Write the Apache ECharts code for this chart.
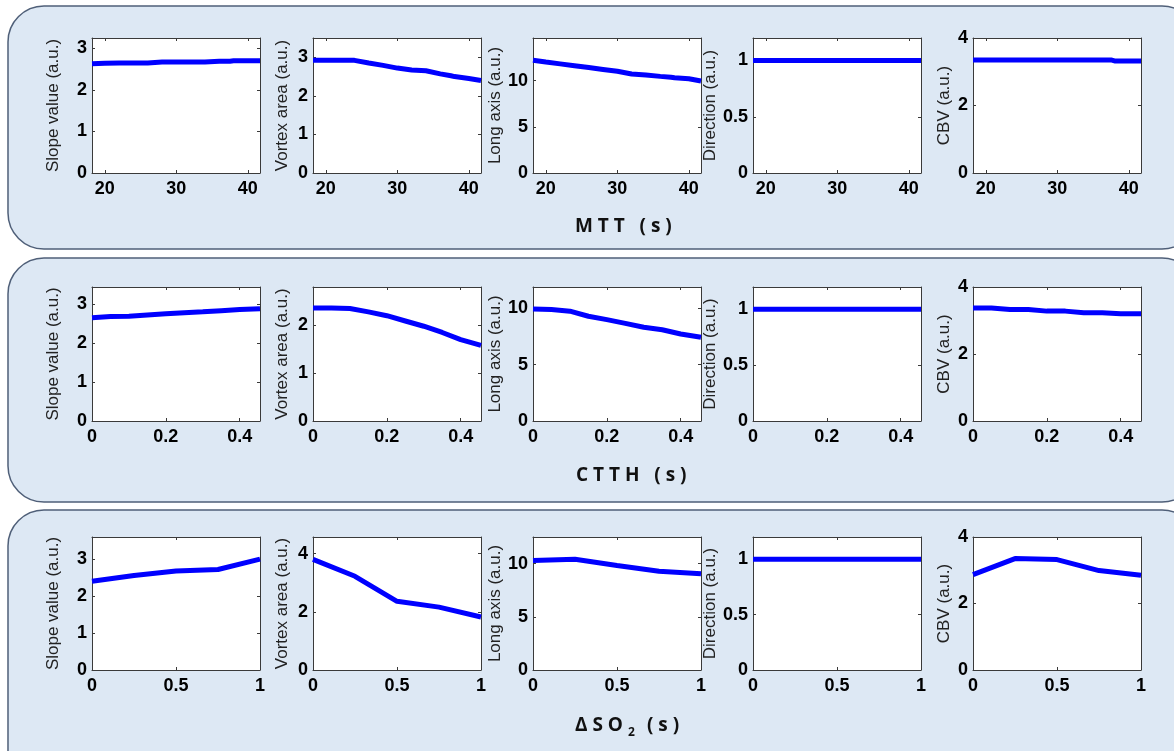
<!DOCTYPE html>
<html>
<head>
<meta charset="utf-8">
<script src="https://cdn.jsdelivr.net/npm/echarts@6/dist/echarts.min.js"></script>
<style>html,body{margin:0;padding:0;background:#fff;}#c{width:1174px;height:751px;}</style>
</head>
<body>
<div id="c"></div>
<script>
// ---------- data ----------
const yNames = ['Slope value (a.u.)', 'Vortex area (a.u.)', 'Long axis (a.u.)', 'Direction (a.u.)', 'CBV (a.u.)'];

// Row 1 : MTT (s)
const mttX = [18.2, 20, 22, 24, 26, 28, 30, 32, 34, 36, 37.5, 38, 40, 41.7];
const mttSlope = [2.63, 2.64, 2.65, 2.65, 2.65, 2.67, 2.67, 2.67, 2.67, 2.69, 2.69, 2.70, 2.70, 2.70];
const mttVortex = [2.92, 2.92, 2.92, 2.92, 2.85, 2.79, 2.72, 2.67, 2.65, 2.57, 2.52, 2.50, 2.45, 2.40];
const mttLong = [12.2, 12.0, 11.8, 11.6, 11.4, 11.2, 11.0, 10.7, 10.6, 10.45, 10.35, 10.3, 10.2, 9.95];
const mttDir = [1, 1, 1, 1, 1, 1, 1, 1, 1, 1, 1, 1, 1, 1];
const mttCBV = [3.35, 3.35, 3.35, 3.35, 3.35, 3.35, 3.35, 3.35, 3.35, 3.35, 3.35, 3.32, 3.32, 3.32];

// Row 2 : CTTH (s)
const ctthX = [0, 0.05, 0.1, 0.15, 0.2, 0.25, 0.3, 0.35, 0.4, 0.455];
const ctthSlope = [2.66, 2.69, 2.70, 2.73, 2.76, 2.79, 2.81, 2.84, 2.87, 2.89];
const ctthVortex = [2.36, 2.36, 2.35, 2.28, 2.20, 2.09, 1.98, 1.85, 1.70, 1.58];
const ctthLong = [9.95, 9.9, 9.75, 9.3, 9.0, 8.67, 8.32, 8.1, 7.73, 7.43];
const ctthDir = [1, 1, 1, 1, 1, 1, 1, 1, 1, 1];
const ctthCBV = [3.37, 3.37, 3.33, 3.33, 3.28, 3.28, 3.23, 3.23, 3.2, 3.2];

// Row 3 : ΔSO2 (s)
const dso2X = [0, 0.25, 0.5, 0.75, 1];
const dso2Slope = [2.4, 2.56, 2.68, 2.72, 3.0];
const dso2Vortex = [3.8, 3.22, 2.36, 2.16, 1.82];
const dso2Long = [10.3, 10.4, 9.82, 9.29, 9.05];
const dso2Dir = [1, 1, 1, 1, 1];
const dso2CBV = [2.87, 3.35, 3.32, 2.99, 2.85];

// axis ranges and tick labels
const xRanges = [[18.2, 41.7], [0, 0.455], [0, 1]];
const xTicks = [[20, 30, 40], [0, 0.2, 0.4], [0, 0.5, 1]];
const yMax = [
  [3.25, 3.5, 14.6, 1.2, 4],
  [3.45, 2.8, 11.9, 1.2, 4],
  [3.6, 4.57, 12.5, 1.2, 4]
];
const yTicks = [
  [[0, 1, 2, 3], [0, 1, 2, 3], [0, 5, 10], [0, 0.5, 1], [0, 2, 4]],
  [[0, 1, 2, 3], [0, 1, 2], [0, 5, 10], [0, 0.5, 1], [0, 2, 4]],
  [[0, 1, 2, 3], [0, 2, 4], [0, 5, 10], [0, 0.5, 1], [0, 2, 4]]
];

const rowsX = [mttX, ctthX, dso2X];
const rowsY = [
  [mttSlope, mttVortex, mttLong, mttDir, mttCBV],
  [ctthSlope, ctthVortex, ctthLong, ctthDir, ctthCBV],
  [dso2Slope, dso2Vortex, dso2Long, dso2Dir, dso2CBV]
];

// ---------- layout ----------
const lefts = [92, 313, 533, 753, 973];
const plotW = 168;
const tops = [38, 287, 537];
const plotH = [135, 134, 133];
const nameGaps = [30, 22, 24, 30, 20];

const grid = [], xAxis = [], yAxis = [], series = [];
const axisColor = '#3a3a3a';
const tickFont = {color: '#000', fontSize: 18, fontWeight: 'bold', fontFamily: 'Liberation Sans, Arial, sans-serif'};

for (let r = 0; r < 3; r++) {
  for (let c = 0; c < 5; c++) {
    const gi = grid.length;
    grid.push({left: lefts[c], top: tops[r], width: plotW, height: plotH[r], show: true, backgroundColor: '#fff', borderWidth: 0});
    const xBase = {
      type: 'value', gridIndex: gi, min: xRanges[r][0], max: xRanges[r][1],
      axisLine: {show: true, onZero: false, lineStyle: {color: axisColor, width: 1}},
      axisTick: {show: true, inside: true, length: 3, customValues: xTicks[r], lineStyle: {color: axisColor}},
      splitLine: {show: false}
    };
    xAxis.push(Object.assign({}, xBase, {
      position: 'bottom',
      axisLabel: Object.assign({show: true, margin: 7, customValues: xTicks[r], formatter: v => String(v)}, tickFont)
    }));
    xAxis.push(Object.assign({}, xBase, {position: 'top', axisLabel: {show: false}}));
    const yBase = {
      type: 'value', gridIndex: gi, min: 0, max: yMax[r][c],
      axisLine: {show: true, onZero: false, lineStyle: {color: axisColor, width: 1}},
      axisTick: {show: true, inside: true, length: 3, customValues: yTicks[r][c], lineStyle: {color: axisColor}},
      splitLine: {show: false}
    };
    yAxis.push(Object.assign({}, yBase, {
      position: 'left',
      name: yNames[c], nameLocation: 'middle', nameGap: nameGaps[c],
      nameTextStyle: {color: '#222', fontSize: 17, fontFamily: 'Liberation Sans, Arial, sans-serif'},
      axisLabel: Object.assign({show: true, margin: 5, customValues: yTicks[r][c], formatter: v => String(v)}, tickFont)
    }));
    yAxis.push(Object.assign({}, yBase, {position: 'right', axisLabel: {show: false}}));
    const xs = rowsX[r], ys = rowsY[r][c];
    series.push({
      type: 'line', xAxisIndex: gi * 2, yAxisIndex: gi * 2,
      data: xs.map((x, i) => [x, ys[i]]),
      showSymbol: false, symbol: 'none', silent: true,
      lineStyle: {color: '#0000ff', width: 5},
      z: 3
    });
  }
}

const titleFont = 'bold 19px "Open Sans", "DejaVu Sans", sans-serif';
const subFont = 'bold 12px "Open Sans", "DejaVu Sans", sans-serif';
const graphic = [
  {type: 'rect', shape: {x: 8, y: 6, width: 1190, height: 243, r: 36}, style: {fill: '#dde8f4', stroke: '#4f5f78', lineWidth: 1.5}, z: -10},
  {type: 'rect', shape: {x: 8, y: 258, width: 1190, height: 244, r: 36}, style: {fill: '#dde8f4', stroke: '#4f5f78', lineWidth: 1.5}, z: -10},
  {type: 'rect', shape: {x: 8, y: 510, width: 1190, height: 280, r: 36}, style: {fill: '#dde8f4', stroke: '#4f5f78', lineWidth: 1.5}, z: -10},
  {type: 'text', left: 575, top: 217, style: {text: 'M T T   ( s )', font: titleFont, fill: '#111'}, z: 10},
  {type: 'text', left: 576, top: 466, style: {text: 'C T T H   ( s )', font: titleFont, fill: '#111'}, z: 10},
  {type: 'text', left: 575, top: 716, style: {text: 'Δ S O', font: titleFont, fill: '#111'}, z: 10},
  {type: 'text', left: 628, top: 727, style: {text: '2', font: subFont, fill: '#111'}, z: 10},
  {type: 'text', left: 647, top: 716, style: {text: '( s )', font: titleFont, fill: '#111'}, z: 10}
];

const chart = echarts.init(document.getElementById('c'), null, {renderer: 'canvas'});
chart.setOption({
  animation: false,
  backgroundColor: '#fff',
  grid, xAxis, yAxis, series,
  graphic: {elements: graphic}
});
</script>
</body>
</html>
